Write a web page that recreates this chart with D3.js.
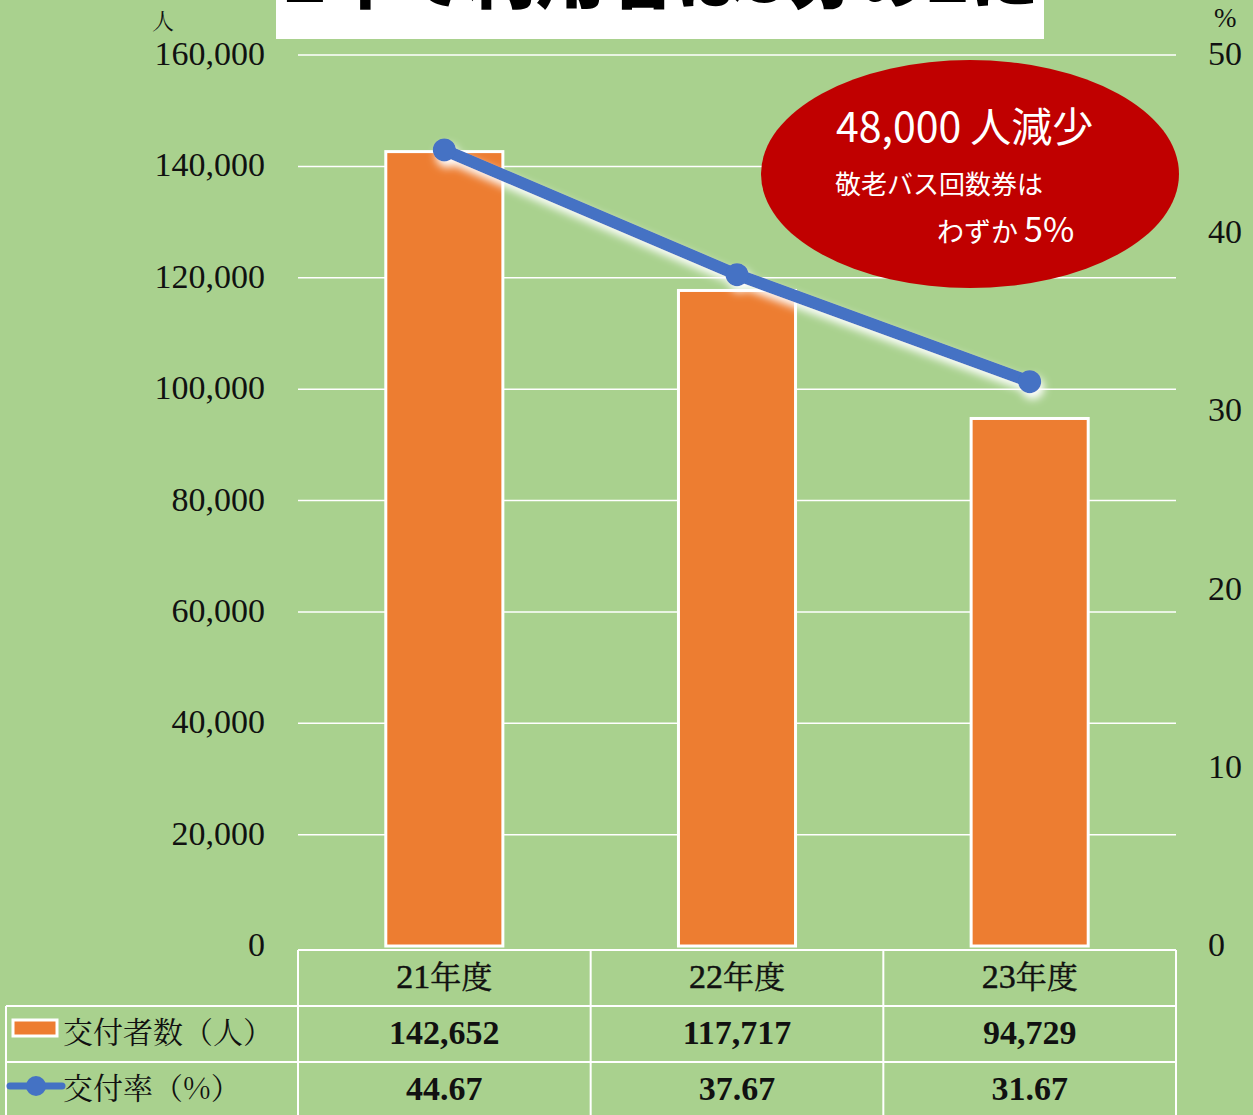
<!doctype html>
<html>
  <head>
    <script src="https://cdn.jsdelivr.net/npm/d3@7/dist/d3.min.js"></script>
    <style>
      body { margin: 0; background: #A9D18E; }
      svg { display: block; }
      .grid line { stroke: #fff; stroke-width: 1.5; }
      .num { font-family: "Liberation Serif", serif; fill: #111; }
      .jp { font-family: "Noto Serif CJK JP", "Noto Sans CJK JP", serif; fill: #111; }
    </style>
  </head>
  <body>
    <svg width="1253" height="1115"></svg>
    <script>
      var years = ["21年度", "22年度", "23年度"];
      var holders = [142652, 117717, 94729];
      var rates = [44.67, 37.67, 31.67];
      var leftTicks = [0, 20000, 40000, 60000, 80000, 100000, 120000, 140000, 160000];
      var rightTicks = [0, 10, 20, 30, 40, 50];

      var svg = d3.select("svg");
      var pL = 298, pR = 1176, pT = 55, pB = 946;

      svg.append("rect").attr("width", 1253).attr("height", 1115).attr("fill", "#A9D18E");

      var defs = svg.append("defs");
      var glow = defs.append("filter").attr("id", "glow")
        .attr("x", "-20%").attr("y", "-50%").attr("width", "140%").attr("height", "200%");
      glow.append("feDropShadow").attr("dx", 3).attr("dy", 6)
        .attr("stdDeviation", 4).attr("flood-color", "#fff").attr("flood-opacity", 1);

      // cut-off title box
      svg.append("rect").attr("x", 276).attr("y", 0).attr("width", 768).attr("height", 39).attr("fill", "#fff");
      svg.append("text")
        .attr("x", 284).attr("y", 2)
        .attr("textLength", 755).attr("lengthAdjust", "spacingAndGlyphs")
        .style("font-family", "Noto Sans CJK JP").style("font-weight", 900)
        .style("font-size", "72px").attr("fill", "#000")
        .text("2年で利用者は3分の2に");

      var x = d3.scaleBand().domain(years).range([pL, pR]).paddingInner(0.6).paddingOuter(0.3);
      var y = d3.scaleLinear().domain([0, 160000]).range([pB, pT]);
      var y2 = d3.scaleLinear().domain([0, 50]).range([pB, pT]);

      // gridlines
      svg.append("g").attr("class", "grid")
        .selectAll("line").data(leftTicks.slice(1)).enter().append("line")
          .attr("x1", pL).attr("x2", pR)
          .attr("y1", d => y(d)).attr("y2", d => y(d));

      var fmt = d3.format(",");
      svg.append("g").selectAll("text").data(leftTicks).enter().append("text")
        .attr("class", "num").attr("x", 265).attr("y", d => y(d) + 10)
        .attr("text-anchor", "end").style("font-size", "34px")
        .text(d => fmt(d));
      svg.append("g").selectAll("text").data(rightTicks).enter().append("text")
        .attr("class", "num").attr("x", 1208).attr("y", d => y2(d) + 10)
        .style("font-size", "34px")
        .text(d => d);
      svg.append("text").attr("class", "jp").attr("x", 152).attr("y", 29).style("font-size", "22px").text("人");
      svg.append("text").attr("class", "num").attr("x", 1214).attr("y", 27).style("font-size", "27px").text("%");

      // bars
      svg.append("g").selectAll("rect").data(holders).enter().append("rect")
        .attr("x", (d, i) => x(years[i]))
        .attr("y", d => y(d))
        .attr("width", x.bandwidth())
        .attr("height", d => pB - y(d))
        .attr("fill", "#ED7D31").attr("stroke", "#fff").attr("stroke-width", 3);

      // callout ellipse
      svg.append("ellipse").attr("cx", 970).attr("cy", 174).attr("rx", 209).attr("ry", 114).attr("fill", "#C00000");
      svg.append("text").attr("x", 836).attr("y", 142).attr("fill", "#fff")
        .style("font-family", "Noto Sans CJK JP").style("font-size", "41px").text("48,000 人減少");
      svg.append("text").attr("x", 835).attr("y", 194).attr("fill", "#fff")
        .style("font-family", "Noto Sans CJK JP").style("font-size", "26px").text("敬老バス回数券は");
      var t3 = svg.append("text").attr("x", 937).attr("y", 242).attr("fill", "#fff")
        .style("font-family", "Noto Sans CJK JP").style("font-size", "27px");
      t3.append("tspan").text("わずか ");
      t3.append("tspan").style("font-size", "34px").text("5%");

      // rate line
      var pts = rates.map((d, i) => [x(years[i]) + x.bandwidth() / 2, y2(d)]);
      var lg = svg.append("g").attr("filter", "url(#glow)");
      lg.append("path").attr("d", d3.line()(pts))
        .attr("fill", "none").attr("stroke", "#4472C4").attr("stroke-width", 12);
      lg.selectAll("circle").data(pts).enter().append("circle")
        .attr("cx", d => d[0]).attr("cy", d => d[1]).attr("r", 11.5).attr("fill", "#4472C4");

      // data table
      var tb = svg.append("g").attr("stroke", "#fff").attr("stroke-width", 2);
      var colX = [pL].concat(years.map((d, i) => pL + (pR - pL) / 3 * (i + 1)));
      tb.append("line").attr("x1", pL).attr("x2", pR).attr("y1", 950).attr("y2", 950);
      [1006, 1062].forEach(v => tb.append("line").attr("x1", 6).attr("x2", pR).attr("y1", v).attr("y2", v));
      colX.forEach(v => tb.append("line").attr("x1", v).attr("x2", v).attr("y1", 950).attr("y2", 1115));
      tb.append("line").attr("x1", 6).attr("x2", 6).attr("y1", 1006).attr("y2", 1115);

      var cx = years.map(d => x(d) + x.bandwidth() / 2);
      years.forEach((d, i) => {
        var t = svg.append("text").attr("x", cx[i]).attr("y", 988).attr("text-anchor", "middle")
          .style("font-size", "31px").attr("stroke", "#111").attr("stroke-width", 0.5);
        t.append("tspan").attr("class", "num").style("font-size", "34px").text(d.slice(0, 2));
        t.append("tspan").attr("class", "jp").text(d.slice(2));
      });
      holders.forEach((d, i) => svg.append("text").attr("class", "num").attr("x", cx[i]).attr("y", 1044)
        .attr("text-anchor", "middle").style("font-size", "34px").style("font-weight", "bold").text(fmt(d)));
      rates.forEach((d, i) => svg.append("text").attr("class", "num").attr("x", cx[i]).attr("y", 1100)
        .attr("text-anchor", "middle").style("font-size", "34px").style("font-weight", "bold").text(d.toFixed(2)));

      // legend keys
      svg.append("rect").attr("x", 13).attr("y", 1020).attr("width", 44).attr("height", 16)
        .attr("fill", "#ED7D31").attr("stroke", "#fff").attr("stroke-width", 3);
      svg.append("line").attr("x1", 10).attr("x2", 62).attr("y1", 1086).attr("y2", 1086)
        .attr("stroke", "#4472C4").attr("stroke-width", 7).attr("stroke-linecap", "round");
      svg.append("circle").attr("cx", 36).attr("cy", 1086).attr("r", 10).attr("fill", "#4472C4");
      svg.append("text").attr("class", "jp").attr("x", 63).attr("y", 1043).style("font-size", "30px").text("交付者数（人）");
      svg.append("text").attr("class", "jp").attr("x", 63).attr("y", 1099).style("font-size", "30px").text("交付率（%）");
    </script>
  </body>
</html>
